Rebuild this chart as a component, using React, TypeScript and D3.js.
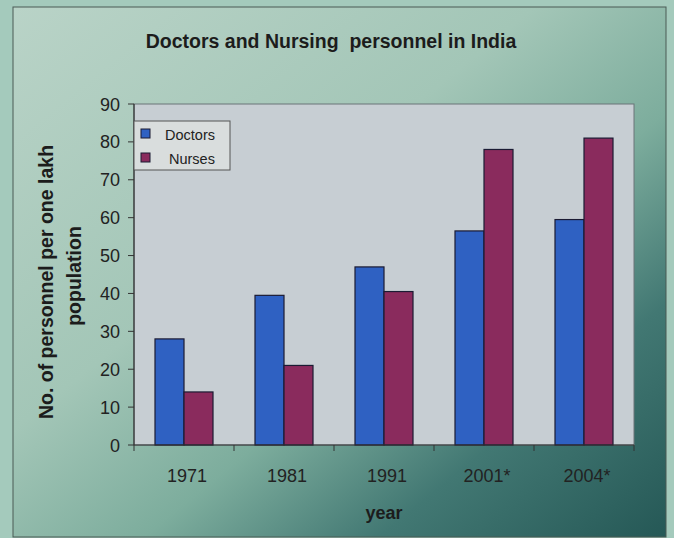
import React from "react";
import * as d3 from "d3";

const categories = ["1971", "1981", "1991", "2001*", "2004*"];
const seriesNames = ["Doctors", "Nurses"];
const doctors = [28, 39.5, 47, 56.5, 59.5];
const nurses = [14, 21, 40.5, 78, 81];
const yTicks = [0, 10, 20, 30, 40, 50, 60, 70, 80, 90];

const W = 674;
const H = 538;
const plot = { left: 134, top: 104, right: 634, bottom: 445 };
const colors = ["#2f61c2", "#8a2b5d"];
const font = "'Liberation Sans', Arial, sans-serif";

export default function App() {
  const x = d3.scaleBand<string>().domain(categories).range([plot.left, plot.right]).paddingInner(0.42).paddingOuter(0.21);
  const xs = d3.scaleBand<string>().domain(seriesNames).range([0, x.bandwidth()]);
  const y = d3.scaleLinear().domain([0, 90]).range([plot.bottom, plot.top]);
  const values = [doctors, nurses];
  const step = (plot.right - plot.left) / categories.length;

  return (
    <svg width={W} height={H} style={{ position: "absolute", left: 0, top: 0, display: "block" }} fontFamily={font}>
      <defs>
        <linearGradient id="bg" x1="0" y1="0" x2="1" y2="1">
          <stop offset="0" stopColor="#b9d3c7" />
          <stop offset="0.4" stopColor="#a3c6b7" />
          <stop offset="0.6" stopColor="#7dad9d" />
          <stop offset="0.78" stopColor="#427873" />
          <stop offset="1" stopColor="#255856" />
        </linearGradient>
      </defs>
      <rect x={0} y={0} width={W} height={H} fill="#a4cabc" />
      <rect x={13} y={7} width={653} height={530} fill="url(#bg)" stroke="#4a5a55" strokeWidth={1} />
      <text x={331} y={48} textAnchor="middle" fontSize={19.5} fontWeight="bold" fill="#1c1c1c" style={{ whiteSpace: "pre" }}>
        Doctors and Nursing  personnel in India
      </text>
      <rect x={plot.left} y={plot.top} width={plot.right - plot.left} height={plot.bottom - plot.top} fill="#c7ced3" stroke="#6a7478" strokeWidth={1} />
      {categories.map((c, i) =>
        seriesNames.map((s, j) => (
          <rect
            key={c + s}
            x={(x(c) as number) + (xs(s) as number)}
            y={y(values[j][i])}
            width={xs.bandwidth()}
            height={y(0) - y(values[j][i])}
            fill={colors[j]}
            stroke="#1b1b33"
            strokeWidth={1.2}
          />
        ))
      )}
      <line x1={plot.left} x2={plot.left} y1={plot.top} y2={plot.bottom} stroke="#333" strokeWidth={1.2} />
      <line x1={plot.left} x2={plot.right} y1={plot.bottom} y2={plot.bottom} stroke="#333" strokeWidth={1.2} />
      {yTicks.map((t) => (
        <g key={t}>
          <line x1={plot.left - 6} x2={plot.left} y1={y(t)} y2={y(t)} stroke="#333" />
          <text x={plot.left - 14} y={y(t) + 6.5} textAnchor="end" fontSize={18} fill="#222">
            {t}
          </text>
        </g>
      ))}
      {d3.range(categories.length + 1).map((i) => (
        <line key={i} x1={plot.left + i * step} x2={plot.left + i * step} y1={plot.bottom} y2={plot.bottom + 6} stroke="#333" />
      ))}
      {categories.map((c) => (
        <text key={c} x={(x(c) as number) + x.bandwidth() / 2 + 3} y={482} textAnchor="middle" fontSize={18} fill="#222">
          {c}
        </text>
      ))}
      <text x={384} y={519} textAnchor="middle" fontSize={18} fontWeight="bold" fill="#1c1c1c">
        year
      </text>
      <g transform="translate(53,282) rotate(-90)">
        <text x={0} y={0} textAnchor="middle" fontSize={19.5} fontWeight="bold" fill="#1c1c1c">
          No. of personnel per one lakh
        </text>
        <text x={6} y={28} textAnchor="middle" fontSize={19.5} fontWeight="bold" fill="#1c1c1c">
          population
        </text>
      </g>
      <g>
        <rect x={134} y={121} width={96} height={49} fill="#d9dddd" stroke="#555" strokeWidth={1} />
        {seriesNames.map((s, j) => (
          <g key={s}>
            <rect x={141} y={129 + j * 24} width={9} height={9} fill={colors[j]} stroke="#1b1b33" />
            <text x={165 + (j === 1 ? 4 : 0)} y={139.5 + j * 24} fontSize={14.5} fill="#222">
              {s}
            </text>
          </g>
        ))}
      </g>
    </svg>
  );
}
